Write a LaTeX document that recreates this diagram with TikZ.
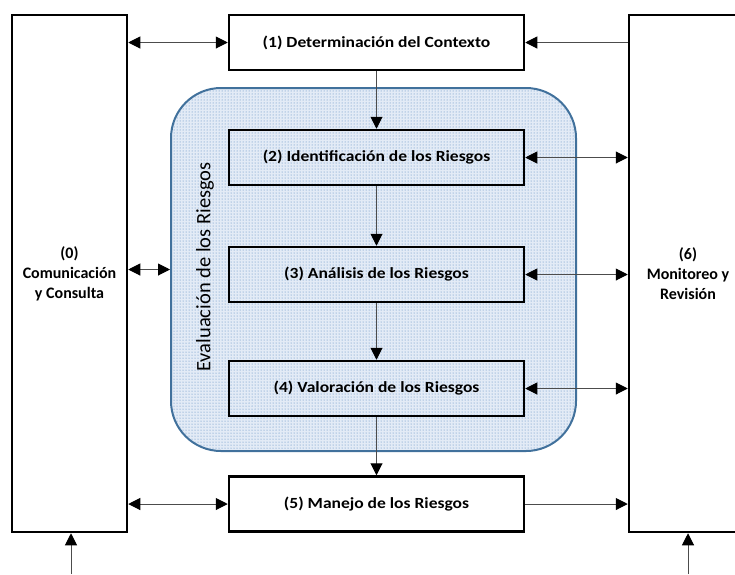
\documentclass[tikz,border=0pt]{standalone}
\usepackage{fontspec}
\setmainfont{Carlito}
\newfontfamily\boxfont[FakeStretch=1.13]{Carlito}
\usetikzlibrary{arrows.meta, patterns}

\definecolor{evalborder}{HTML}{41719C}
\definecolor{evaldot}{HTML}{4F81BD}
\definecolor{evalfill}{HTML}{E3EBF6}

\begin{document}
\begin{tikzpicture}[x=1pt, y=-1pt,
    block/.style={rectangle, draw=black, line width=2.5pt, minimum width=295pt,
                  minimum height=55pt, font=\boxfont\fontsize{15.5}{18}\selectfont\bfseries},
    tall/.style={rectangle, draw=black, line width=2.5pt, minimum width=115pt,
                 minimum height=517pt, align=center, font=\fontsize{16}{20}\selectfont\bfseries},
    region/.style={rectangle, rounded corners=50pt, draw=evalborder, line width=2pt,
                   minimum width=405pt, minimum height=363pt,
                   preaction={fill=evalfill}, pattern=dots, pattern color=evaldot},
    arrow/.style={-{Triangle[length=12pt, width=12pt, color=black]}, line width=1pt, draw=black!70},
    dblarrow/.style={{Triangle[length=12pt, width=12pt, color=black]}-{Triangle[length=12pt, width=12pt, color=black]},
                     line width=1pt, draw=black!70}
]
    \useasboundingbox (0,0) rectangle (735,574);

    % Evaluation region
    \node[region] (region) at (373.5, 269.5) {};
    \node[rotate=90, font=\fontsize{20.5}{24}\selectfont] (evallabel) at (205, 267) {Evaluación de los Riesgos};

    % Side boxes
    \node[tall] (comun) at (69.5, 273.5) {(0)\\Comunicación\\y Consulta};
    \node[tall, minimum width=118pt] (monit) at (688, 273.5) {(6)\\Monitoreo y\\Revisión};

    % Process boxes
    \node[block, fill=white] (ctx) at (376.5, 42.5) {(1) Determinación del Contexto};
    \node[block] (ident) at (376.5, 157.5) {(2) Identificación de los Riesgos};
    \node[block] (anal) at (376.5, 274.5) {(3) Análisis de los Riesgos};
    \node[block] (valor) at (376.5, 388.5) {(4) Valoración de los Riesgos};
    \node[block, fill=white] (manejo) at (376.5, 504) {(5) Manejo de los Riesgos};

    % Main flow
    \draw[arrow] (ctx.south) -- (ident.north);
    \draw[arrow] (ident.south) -- (anal.north);
    \draw[arrow] (anal.south) -- (valor.north);
    \draw[arrow] (valor.south) -- (manejo.north);

    % Communication
    \draw[dblarrow] (comun.east |- ctx.west) -- (ctx.west);
    \draw[dblarrow] (comun.east |- region.west) -- (region.west);
    \draw[dblarrow] (comun.east |- manejo.west) -- (manejo.west);

    % Monitoring
    \draw[arrow] (monit.west |- ctx.east) -- (ctx.east);
    \draw[dblarrow] (ident.east) -- (ident.east -| monit.west);
    \draw[dblarrow] (anal.east) -- (anal.east -| monit.west);
    \draw[dblarrow] (valor.east) -- (valor.east -| monit.west);
    \draw[arrow] (manejo.east) -- (manejo.east -| monit.west);

    % Inputs from below
    \coordinate (inC) at (71, 574);
    \coordinate (inM) at (688, 574);
    \draw[arrow] (inC) -- (inC |- comun.south);
    \draw[arrow] (inM) -- (inM |- monit.south);

\end{tikzpicture}
\end{document}
